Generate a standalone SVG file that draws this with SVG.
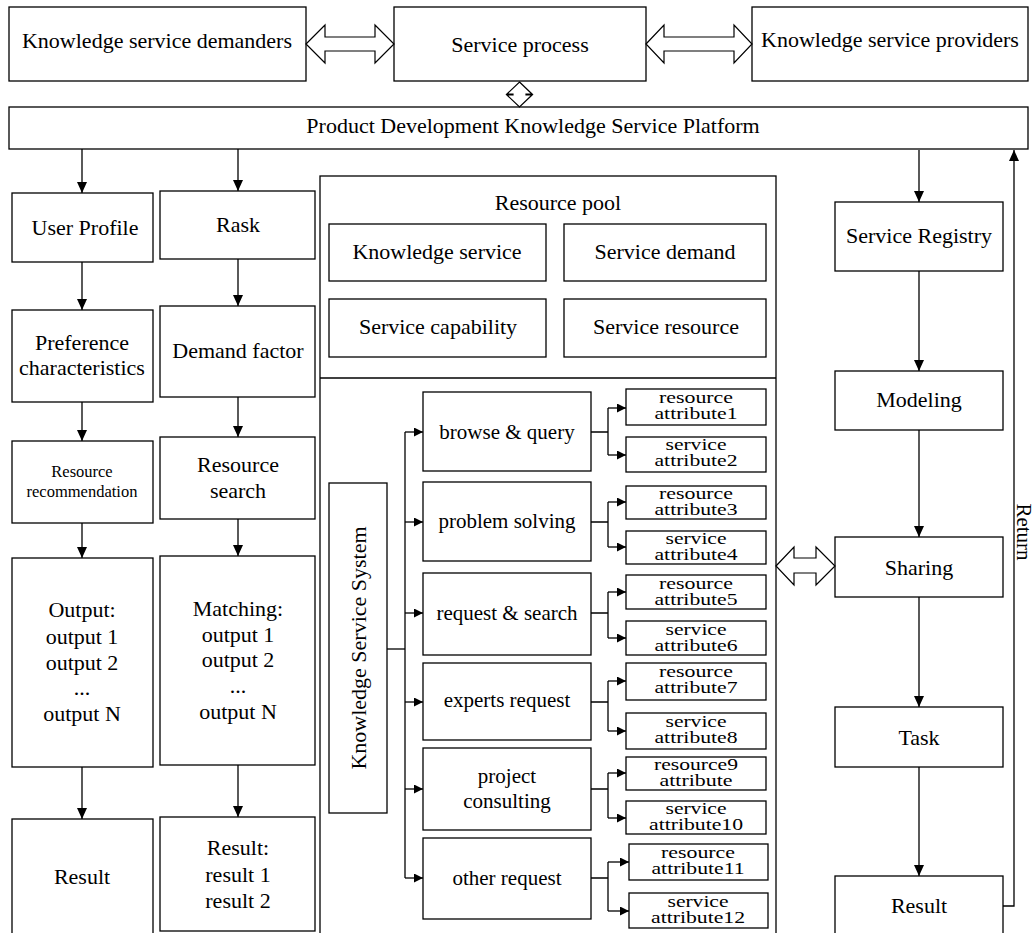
<svg xmlns="http://www.w3.org/2000/svg" width="1036" height="933" viewBox="0 0 1036 933">
  <defs>
    <marker id="ah" markerUnits="userSpaceOnUse" markerWidth="12" markerHeight="10" refX="11" refY="5" orient="auto">
      <path d="M0,0 L11,5 L0,10 Z" fill="#000"/>
    </marker>
    <marker id="ahs" markerUnits="userSpaceOnUse" markerWidth="10" markerHeight="9" refX="9" refY="4.5" orient="auto">
      <path d="M0,0 L9,4.5 L0,9 Z" fill="#000"/>
    </marker>
  </defs>
  <style>
    rect { fill: #fff; stroke: #000; stroke-width: 1.3; }
    text { font-family: "Liberation Serif", "Times New Roman", serif; fill: #000; }
    .t22 { font-size: 22px; text-anchor: middle; }
    .t20 { font-size: 21px; text-anchor: middle; }
    .t16 { font-size: 16.5px; text-anchor: middle; }
    .attr { font-size: 16px; text-anchor: middle; }
    .ln { fill: none; stroke: #000; stroke-width: 1.3; }
    .arr { fill: none; stroke: #000; stroke-width: 1.3; marker-end: url(#ah); }
    .arrs { fill: none; stroke: #000; stroke-width: 1.3; marker-end: url(#ahs); }
    .dbl { fill: #fff; stroke: #000; stroke-width: 1.2; }
  </style>

  <!-- top row -->
  <g id="demanders"><rect x="9" y="7" width="297" height="74"/><text class="t22" x="157" y="48">Knowledge service demanders</text></g>
  <g id="service-process"><rect x="394" y="7" width="252" height="74"/><text class="t22" x="520" y="52">Service process</text></g>
  <g id="providers"><rect x="752" y="7" width="276" height="74"/><text class="t22" x="890" y="47">Knowledge service providers</text></g>

  <!-- platform bar -->
  <g id="platform"><rect x="9" y="107" width="1019" height="42"/><text class="t22" x="533" y="133">Product Development Knowledge Service Platform</text></g>

  <!-- left column: user profile branch -->
  <g id="user-profile"><rect x="12" y="193" width="141" height="69"/><text class="t22" x="85" y="235">User Profile</text></g>
  <g id="preference"><rect x="12" y="310" width="141" height="92"/><text class="t22" x="82" y="350">Preference</text><text class="t22" x="82" y="375">characteristics</text></g>
  <g id="recommendation"><rect x="12" y="441" width="141" height="82"/><text class="t16" x="82" y="477">Resource</text><text class="t16" x="82" y="497">recommendation</text></g>
  <g id="output"><rect x="12" y="558" width="141" height="209"/>
    <text class="t22" x="82" y="617">Output:</text><text class="t22" x="82" y="644">output 1</text><text class="t22" x="82" y="670">output 2</text><text class="t22" x="82" y="695">...</text><text class="t22" x="82" y="721">output N</text></g>
  <g id="result-left"><rect x="12" y="819" width="141" height="130"/><text class="t22" x="82" y="884">Result</text></g>

  <!-- left column: task branch -->
  <g id="rask"><rect x="160" y="191" width="155" height="68"/><text class="t22" x="238" y="232">Rask</text></g>
  <g id="demand-factor"><rect x="160" y="306" width="155" height="91"/><text class="t22" x="238" y="358">Demand factor</text></g>
  <g id="resource-search"><rect x="160" y="437" width="155" height="82"/><text class="t22" x="238" y="472">Resource</text><text class="t22" x="238" y="498">search</text></g>
  <g id="matching"><rect x="160" y="556" width="155" height="209"/>
    <text class="t22" x="238" y="616">Matching:</text><text class="t22" x="238" y="642">output 1</text><text class="t22" x="238" y="667">output 2</text><text class="t22" x="238" y="693">...</text><text class="t22" x="238" y="719">output N</text></g>
  <g id="result-match"><rect x="160" y="817" width="155" height="114"/>
    <text class="t22" x="238" y="855">Result:</text><text class="t22" x="238" y="882">result 1</text><text class="t22" x="238" y="908">result 2</text></g>

  <!-- centre container: resource pool + knowledge service system -->
  <g id="resource-pool">
    <rect x="320" y="176" width="456" height="770"/>
    <line class="ln" x1="320" y1="378" x2="776" y2="378"/>
    <text class="t22" x="558" y="210">Resource pool</text>
    <rect x="329" y="224" width="217" height="57"/><text class="t22" x="437" y="259">Knowledge service</text>
    <rect x="564" y="224" width="202" height="57"/><text class="t22" x="665" y="259">Service demand</text>
    <rect x="329" y="299" width="217" height="58"/><text class="t22" x="438" y="334">Service capability</text>
    <rect x="564" y="299" width="202" height="58"/><text class="t22" x="666" y="334">Service resource</text>
  </g>

  <g id="kss"><rect x="329" y="483" width="58" height="330"/>
    <text class="t22" transform="translate(366 648) rotate(-90)">Knowledge Service System</text></g>

  <g id="browse"><rect x="423" y="392" width="168" height="79"/><text class="t20" x="507" y="439">browse &amp; query</text></g>
  <g id="problem"><rect x="423" y="482" width="168" height="79"/><text class="t20" x="507" y="528">problem solving</text></g>
  <g id="request-search"><rect x="423" y="573" width="168" height="82"/><text class="t20" x="507" y="620">request &amp; search</text></g>
  <g id="experts"><rect x="423" y="663" width="168" height="77"/><text class="t20" x="507" y="707">experts request</text></g>
  <g id="project"><rect x="423" y="748" width="168" height="82"/><text class="t20" x="507" y="783">project</text><text class="t20" x="507" y="808">consulting</text></g>
  <g id="other"><rect x="423" y="838" width="168" height="81"/><text class="t20" x="507" y="885">other request</text></g>

  <!-- attribute boxes -->
  <g id="attr1"><rect x="626" y="389" width="140" height="36"/><text class="attr" x="696" y="403" textLength="74" lengthAdjust="spacingAndGlyphs">resource</text><text class="attr" x="696" y="419" textLength="83" lengthAdjust="spacingAndGlyphs">attribute1</text></g>
  <g id="attr2"><rect x="626" y="437" width="140" height="35"/><text class="attr" x="696" y="450" textLength="61" lengthAdjust="spacingAndGlyphs">service</text><text class="attr" x="696" y="466" textLength="83" lengthAdjust="spacingAndGlyphs">attribute2</text></g>
  <g id="attr3"><rect x="626" y="486" width="140" height="33"/><text class="attr" x="696" y="499" textLength="74" lengthAdjust="spacingAndGlyphs">resource</text><text class="attr" x="696" y="515" textLength="83" lengthAdjust="spacingAndGlyphs">attribute3</text></g>
  <g id="attr4"><rect x="626" y="531" width="140" height="33"/><text class="attr" x="696" y="544" textLength="61" lengthAdjust="spacingAndGlyphs">service</text><text class="attr" x="696" y="560" textLength="83" lengthAdjust="spacingAndGlyphs">attribute4</text></g>
  <g id="attr5"><rect x="626" y="575" width="140" height="34"/><text class="attr" x="696" y="589" textLength="74" lengthAdjust="spacingAndGlyphs">resource</text><text class="attr" x="696" y="605" textLength="83" lengthAdjust="spacingAndGlyphs">attribute5</text></g>
  <g id="attr6"><rect x="626" y="621" width="140" height="34"/><text class="attr" x="696" y="635" textLength="61" lengthAdjust="spacingAndGlyphs">service</text><text class="attr" x="696" y="651" textLength="83" lengthAdjust="spacingAndGlyphs">attribute6</text></g>
  <g id="attr7"><rect x="626" y="663" width="140" height="37"/><text class="attr" x="696" y="677" textLength="74" lengthAdjust="spacingAndGlyphs">resource</text><text class="attr" x="696" y="693" textLength="83" lengthAdjust="spacingAndGlyphs">attribute7</text></g>
  <g id="attr8"><rect x="626" y="713" width="140" height="36"/><text class="attr" x="696" y="727" textLength="61" lengthAdjust="spacingAndGlyphs">service</text><text class="attr" x="696" y="743" textLength="83" lengthAdjust="spacingAndGlyphs">attribute8</text></g>
  <g id="attr9"><rect x="626" y="757" width="140" height="33"/><text class="attr" x="696" y="770" textLength="84" lengthAdjust="spacingAndGlyphs">resource9</text><text class="attr" x="696" y="786" textLength="73" lengthAdjust="spacingAndGlyphs">attribute</text></g>
  <g id="attr10"><rect x="626" y="801" width="140" height="33"/><text class="attr" x="696" y="814" textLength="61" lengthAdjust="spacingAndGlyphs">service</text><text class="attr" x="696" y="830" textLength="94" lengthAdjust="spacingAndGlyphs">attribute10</text></g>
  <g id="attr11"><rect x="629" y="844" width="139" height="36"/><text class="attr" x="698" y="858" textLength="74" lengthAdjust="spacingAndGlyphs">resource</text><text class="attr" x="698" y="874" textLength="93" lengthAdjust="spacingAndGlyphs">attribute11</text></g>
  <g id="attr12"><rect x="629" y="893" width="139" height="35"/><text class="attr" x="698" y="907" textLength="61" lengthAdjust="spacingAndGlyphs">service</text><text class="attr" x="698" y="923" textLength="94" lengthAdjust="spacingAndGlyphs">attribute12</text></g>

  <!-- right column -->
  <g id="registry"><rect x="835" y="202" width="168" height="69"/><text class="t22" x="919" y="243">Service Registry</text></g>
  <g id="modeling"><rect x="835" y="371" width="168" height="59"/><text class="t22" x="919" y="407">Modeling</text></g>
  <g id="sharing"><rect x="835" y="537" width="168" height="60"/><text class="t22" x="919" y="575">Sharing</text></g>
  <g id="task"><rect x="835" y="707" width="168" height="60"/><text class="t22" x="919" y="745">Task</text></g>
  <g id="result-right"><rect x="835" y="876" width="168" height="80"/><text class="t22" x="919" y="913">Result</text></g>

  <!-- connectors -->
  <g id="connectors">
    <!-- hollow double arrows -->
    <polygon class="dbl" points="306,44 325,25 325,37 375,37 375,25 394,44 375,63 375,51 325,51 325,63"/>
    <polygon class="dbl" points="646,44 664,25 664,37 734,37 734,25 752,44 734,63 734,51 664,51 664,63"/>
    <polygon class="dbl" points="519.5,82 532,94 526,94 526,95 532,95 519.5,107 507,95 513,95 513,94 507,94"/>
    <polygon class="dbl" points="776,566 794,547 794,558 816,558 816,547 835,566 816,585 816,573 794,573 794,585"/>

    <!-- left columns -->
    <line class="arr" x1="82" y1="149" x2="82" y2="193"/>
    <line class="arr" x1="82" y1="262" x2="82" y2="310"/>
    <line class="arr" x1="82" y1="402" x2="82" y2="441"/>
    <line class="arr" x1="82" y1="523" x2="82" y2="558"/>
    <line class="arr" x1="82" y1="767" x2="82" y2="819"/>
    <line class="arr" x1="238" y1="149" x2="238" y2="191"/>
    <line class="arr" x1="238" y1="259" x2="238" y2="306"/>
    <line class="arr" x1="238" y1="397" x2="238" y2="437"/>
    <line class="arr" x1="238" y1="519" x2="238" y2="556"/>
    <line class="arr" x1="238" y1="765" x2="238" y2="817"/>

    <!-- knowledge service system fan-out -->
    <line class="ln" x1="387" y1="649" x2="405" y2="649"/>
    <line class="ln" x1="405" y1="432" x2="405" y2="878"/>
    <line class="arrs" x1="405" y1="432" x2="423" y2="432"/>
    <line class="arrs" x1="405" y1="522" x2="423" y2="522"/>
    <line class="arrs" x1="405" y1="613" x2="423" y2="613"/>
    <line class="arrs" x1="405" y1="702" x2="423" y2="702"/>
    <line class="arrs" x1="405" y1="789" x2="423" y2="789"/>
    <line class="arrs" x1="405" y1="878" x2="423" y2="878"/>

    <!-- attribute branches -->
    <path class="ln" d="M591,432 H608 M608,408 V455 M591,522 H608 M608,502 V547 M591,613 H608 M608,592 V638 M591,702 H608 M608,681 V731 M591,789 H608 M608,773 V818 M591,878 H608 M608,862 V911"/>
    <line class="arrs" x1="608" y1="408" x2="626" y2="408"/>
    <line class="arrs" x1="608" y1="455" x2="626" y2="455"/>
    <line class="arrs" x1="608" y1="502" x2="626" y2="502"/>
    <line class="arrs" x1="608" y1="547" x2="626" y2="547"/>
    <line class="arrs" x1="608" y1="592" x2="626" y2="592"/>
    <line class="arrs" x1="608" y1="638" x2="626" y2="638"/>
    <line class="arrs" x1="608" y1="681" x2="626" y2="681"/>
    <line class="arrs" x1="608" y1="731" x2="626" y2="731"/>
    <line class="arrs" x1="608" y1="773" x2="626" y2="773"/>
    <line class="arrs" x1="608" y1="818" x2="626" y2="818"/>
    <line class="arrs" x1="608" y1="862" x2="629" y2="862"/>
    <line class="arrs" x1="608" y1="911" x2="629" y2="911"/>

    <!-- right column -->
    <line class="arr" x1="919" y1="150" x2="919" y2="202"/>
    <line class="arr" x1="919" y1="271" x2="919" y2="371"/>
    <line class="arr" x1="919" y1="430" x2="919" y2="537"/>
    <line class="arr" x1="919" y1="597" x2="919" y2="707"/>
    <line class="arr" x1="919" y1="767" x2="919" y2="876"/>
    <polyline class="arr" points="1003,906 1014,906 1014,150"/>
    <text class="t20" transform="translate(1017 532) rotate(90)">Return</text>
  </g>
</svg>
